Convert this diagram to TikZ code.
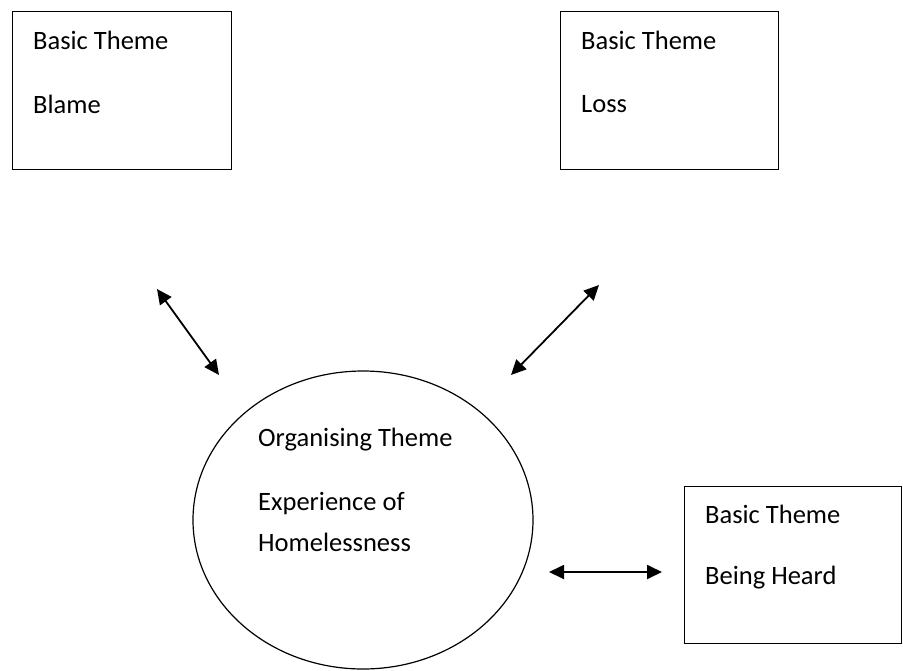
\documentclass[tikz,border=0pt]{standalone}
\usepackage{fontspec}
\setmainfont{Carlito}
\usetikzlibrary{arrows.meta}
\usetikzlibrary{shapes.geometric}
\usetikzlibrary{positioning}

\begin{document}
\begin{tikzpicture}[x=1pt,y=-1pt]
\tikzstyle{theme} = [draw, line width=1.4pt, rectangle, inner sep=0pt, anchor=north west]
\tikzstyle{txt} = [anchor=west, inner sep=0pt, font=\fontsize{26.5}{30}\selectfont]
\tikzstyle{link} = [line width=1.8pt, {Triangle[length=15pt,width=14pt]}-{Triangle[length=15pt,width=14pt]}]

\useasboundingbox (0,0) rectangle (903,670);

% basic themes
\node[theme, minimum width=219pt, minimum height=158pt] (blame) at (12,11) {};
\node[theme, minimum width=218pt, minimum height=158pt] (loss) at (560,11) {};
\node[theme, minimum width=217pt, minimum height=157pt] (heard) at (684,486) {};

% organising theme
\node[draw, ellipse, line width=1.2pt, minimum width=340pt, minimum height=298pt] (homeless) at (363,520) {};

\node[txt] (blameA) at (33,40) {Basic Theme};
\node[txt] (blameB) at (33,104) {Blame};
\node[txt] (lossA) at (581,40) {Basic Theme};
\node[txt] (lossB) at (581,104) {Loss};
\node[txt] (heardA) at (705,514) {Basic Theme};
\node[txt] (heardB) at (705,578) {Being Heard};
\node[txt] (orgA) at (258,440) {Organising Theme};
\node[txt] (orgB) at (258,504) {Experience of};
\node[txt] (orgC) at (258,542) {Homelessness};

% links
\coordinate (b1) at (157,289);
\coordinate (b2) at (219,375);
\coordinate (l1) at (599,285);
\coordinate (l2) at (511,375);
\coordinate (h1) at (549,572);
\coordinate (h2) at (662,572);

\draw[link] (b1) -- (b2);
\draw[link] (l1) -- (l2);
\draw[link] (h1) -- (h2);

\end{tikzpicture}
\end{document}
